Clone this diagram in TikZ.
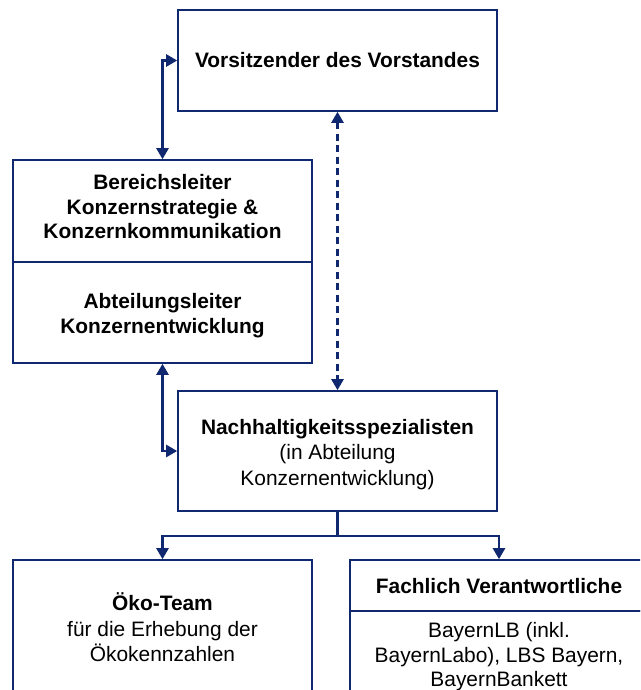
\documentclass[tikz,border=0pt]{standalone}
\usepackage{fontspec}
\setmainfont{Liberation Sans}
\usetikzlibrary{arrows.meta}
\definecolor{navy}{RGB}{16,40,112}
\begin{document}
\begin{tikzpicture}[x=1pt,y=-1pt,
  >={Triangle[width=12pt,length=11pt]},
  box/.style={draw=navy,line width=1.6pt,inner sep=0pt,fill=white},
  txt/.style={align=center,inner sep=0pt,text=black,font=\fontsize{20.9}{24.5}\selectfont},
  txtw/.style={align=center,inner sep=0pt,text=black,font=\fontsize{20.9}{25.5}\selectfont},
  arr/.style={draw=navy,line width=2.4pt}]
\useasboundingbox (0,0) rectangle (640,690);
\clip (0,0) rectangle (640,690);
% boxes
\node[box,minimum width=319pt,minimum height=101pt] (vs) at (337.5,60.5) {};
\node[box,minimum width=299pt,minimum height=102pt] (bl) at (162.5,211) {};
\node[box,minimum width=299pt,minimum height=101pt] (al) at (162.5,312.5) {};
\node[box,minimum width=319pt,minimum height=120pt] (ns) at (337.5,451) {};
\node[box,minimum width=299pt,minimum height=160pt] (oe) at (162.5,640) {};
\node[box,minimum width=298pt,minimum height=51pt] (fh) at (499,585.5) {};
\node[box,minimum width=298pt,minimum height=109pt] (fb) at (499,665.5) {};
% texts
\node[txt] (tvs) at (337.5,60) {\bfseries Vorsitzender des Vorstandes};
\node[txt] (tbl) at (162.5,207) {\bfseries Bereichsleiter\\\bfseries Konzernstrategie \&\\\bfseries Konzernkommunikation};
\node[txt] (tal) at (162.5,315.5) {\bfseries Abteilungsleiter\\\bfseries Konzernentwicklung};
\node[txtw] (tns) at (337.5,454.5) {\bfseries Nachhaltigkeitsspezialisten\\(in Abteilung\\Konzernentwicklung)};
\node[txtw] (toe) at (162.5,627.5) {\bfseries Öko-Team\\für die Erhebung der\\Ökokennzahlen};
\node[txt] (tfh) at (499,586) {\bfseries Fachlich Verantwortliche};
\node[txt,anchor=north] (tfb) at (499,622.5) {BayernLB (inkl.\\BayernLabo), LBS Bayern,\\BayernBankett};
% connectors
\draw[arr,<->] (vs.west) -| (bl.north);
\draw[arr,<->] (al.south) |- (ns.west);
\draw[arr,<->,dash pattern=on 7pt off 4.5pt] (vs.south) -- (ns.north);
\draw[arr,->] (ns.south) -- ++(0,24) coordinate (fk) -| (oe.north);
\draw[arr,->] (fk) -| (fh.north);
\end{tikzpicture}
\end{document}
